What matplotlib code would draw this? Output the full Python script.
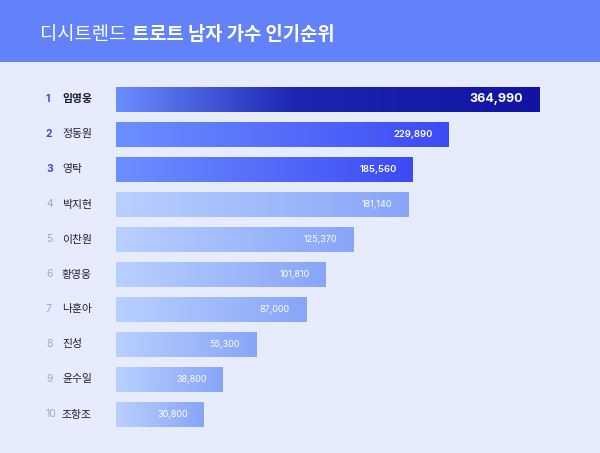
import numpy as np
import matplotlib
matplotlib.use("Agg")
import matplotlib.pyplot as plt
from matplotlib.colors import LinearSegmentedColormap
from matplotlib.patches import Rectangle
from matplotlib.transforms import blended_transform_factory

plt.rcParams['font.family'] = ['Noto Sans CJK KR', 'DejaVu Sans']

title_light = "디시트렌드"
title_bold = "트로트 남자 가수 인기순위"
ranks = [1, 2, 3, 4, 5, 6, 7, 8, 9, 10]
names = ["임영웅", "정동원", "영탁", "박지현", "이찬원", "황영웅", "나훈아", "진성", "윤수일", "조항조"]
values = [364990, 229890, 185560, 181140, 125370, 101810, 87000, 55300, 38800, 30800]

# bar lengths in the picture are compressed, roughly v ** 0.4
def fwd(x):
    return np.power(np.clip(x, 0, None), 0.4)

def inv(x):
    return np.power(np.clip(x, 0, None), 2.5)

cmap_top = LinearSegmentedColormap.from_list("top", [(0, "#6B8EFF"), (0.42, "#1D25B2"), (1, "#1114A3")])
cmap_mid = LinearSegmentedColormap.from_list("mid", ["#6C90FF", "#3C4AF4"])
cmap_low = LinearSegmentedColormap.from_list("low", ["#B9D0FF", "#88A5F8"])

W, H = 600, 453
fig = plt.figure(figsize=(6, 4.53), dpi=100)
fig.patch.set_facecolor("#E6ECFC")
fig.add_artist(Rectangle((0, 1 - 62 / H), 1, 62 / H, transform=fig.transFigure,
                         facecolor="#6282FA", edgecolor="none"))

ax = fig.add_axes([116 / W, (H - 435) / H, (560 - 116) / W, 355 / H])
ax.set_xscale("function", functions=(fwd, inv))
ax.set_xlim(7165, 401790)
ax.set_ylim(9.586, -0.557)
ax.axis("off")

ypos = np.arange(len(values))
bars = ax.barh(ypos, values, height=25 / 35, color="none", edgecolor="none")

grad = np.linspace(0, 1, 256).reshape(1, -1)
for i, (bar, v) in enumerate(zip(bars, values)):
    x1 = ax.transAxes.inverted().transform(ax.transData.transform((v, i)))[0]
    cm = cmap_top if i == 0 else (cmap_mid if i < 3 else cmap_low)
    im = ax.imshow(grad, cmap=cm, extent=(0, x1, 0, 1), transform=ax.transAxes,
                   aspect="auto", interpolation="bicubic", zorder=2)
    im.set_clip_path(bar)

    if i == 0:
        fs, fw = 9, "bold"
    elif i < 3:
        fs, fw = 6.8, "semibold"
    else:
        fs, fw = 6.5, "normal"
    ax.annotate(f"{v:,}", xy=(v, i), xytext=(-16, 0), textcoords="offset pixels",
                ha="right", va="center", color="white", fontsize=fs,
                fontweight=fw, family=["Inter", "DejaVu Sans"], zorder=3)

trans = blended_transform_factory(fig.transFigure, ax.transData)
for i, (r, n) in enumerate(zip(ranks, names)):
    top = i < 3
    ax.text(46 / W, i, str(r), transform=trans, ha="left", va="center",
            fontsize=7.5, fontweight="bold" if top else "normal",
            color="#3E4EC2" if top else "#A3A6CA", family=["Inter", "DejaVu Sans"])
    ax.text(62 / W, i, n, transform=trans, ha="left", va="center",
            fontsize=7.8, fontweight="bold" if i == 0 else ("medium" if top else "normal"),
            color="#1E1E28")

t1 = fig.text(40 / W, 1 - 33 / H, title_light, ha="left", va="baseline",
              fontsize=13.5, color="white")
t1.set_y(1 - 40 / H)
fig.canvas.draw()
bb = t1.get_window_extent()
fig.text((bb.x1 + 6) / W, 1 - 40 / H, title_bold, ha="left", va="baseline",
         fontsize=13.5, fontweight="bold", color="white")

fig.savefig("out.png", dpi=100, facecolor=fig.get_facecolor())
